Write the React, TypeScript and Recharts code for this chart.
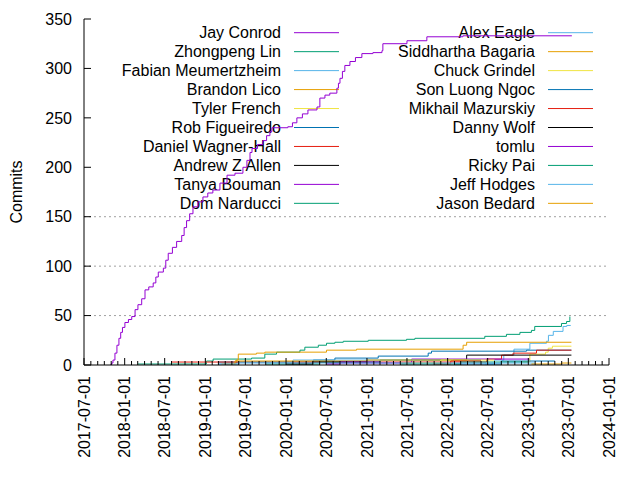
import { LineChart, Line, XAxis, YAxis, ReferenceLine } from 'recharts';

type Pt = [string, number];

// cumulative commits per author
const jayConrod: Pt[] = [
  ['2017-10-27', 0], ['2017-11-03', 2], ['2017-11-09', 5], ['2017-11-18', 12], ['2017-11-27', 20],
  ['2017-12-06', 27], ['2017-12-14', 33], ['2017-12-22', 38], ['2018-01-02', 43], ['2018-01-18', 46],
  ['2018-02-02', 49], ['2018-02-17', 56], ['2018-03-02', 61], ['2018-03-19', 67], ['2018-04-03', 76],
  ['2018-04-20', 79], ['2018-05-10', 83], ['2018-05-22', 89], ['2018-06-02', 94], ['2018-06-25', 98],
  ['2018-07-06', 106], ['2018-07-17', 113], ['2018-08-05', 119], ['2018-08-24', 125], ['2018-09-16', 131],
  ['2018-09-27', 139], ['2018-10-08', 146], ['2018-10-22', 153], ['2018-11-06', 160], ['2018-11-28', 165],
  ['2018-12-21', 170], ['2019-01-12', 174], ['2019-02-04', 177], ['2019-03-08', 184], ['2019-04-09', 192],
  ['2019-05-15', 194], ['2019-06-20', 200], ['2019-07-08', 207], ['2019-07-22', 215], ['2019-07-31', 219],
  ['2019-08-25', 223], ['2019-09-18', 227], ['2019-10-05', 232], ['2019-10-20', 236], ['2019-10-29', 240],
  ['2020-01-09', 241], ['2020-01-30', 245], ['2020-02-19', 250], ['2020-03-15', 254], ['2020-04-09', 258],
  ['2020-05-20', 261], ['2020-06-02', 270], ['2020-06-25', 273], ['2020-07-17', 275], ['2020-08-18', 280],
  ['2020-08-25', 285], ['2020-09-01', 290], ['2020-09-12', 297], ['2020-09-23', 303], ['2020-10-16', 307],
  ['2020-11-10', 311], ['2020-12-09', 315], ['2021-01-28', 316], ['2021-03-10', 318], ['2021-03-14', 325],
  ['2021-07-01', 328], ['2021-09-29', 332], ['2022-03-11', 333], ['2023-07-17', 333],
];
const zhongpengLin: Pt[] = [
  ['2018-03-02', 1], ['2019-01-06', 4], ['2019-02-05', 6], ['2019-07-29', 7], ['2019-09-27', 11],
  ['2019-11-19', 13], ['2020-03-04', 15], ['2020-03-26', 18], ['2020-05-26', 20], ['2020-07-02', 22],
  ['2020-08-09', 23], ['2020-09-16', 24], ['2021-01-07', 25], ['2021-06-29', 26], ['2021-08-06', 27],
  ['2022-06-18', 29], ['2022-09-24', 31], ['2022-11-24', 33], ['2023-01-15', 35], ['2023-01-30', 39],
  ['2023-05-31', 42], ['2023-06-23', 44], ['2023-07-08', 49],
];
const fabianMeumertzheim: Pt[] = [
  ['2022-06-20', 1], ['2022-08-01', 5], ['2022-09-12', 10], ['2022-10-28', 16], ['2023-01-08', 22],
  ['2023-03-24', 24], ['2023-04-02', 30], ['2023-04-24', 34], ['2023-06-07', 39], ['2023-06-24', 40],
  ['2023-07-12', 40],
];
const brandonLico: Pt[] = [
  ['2019-04-30', 1], ['2019-05-20', 5], ['2019-05-30', 11], ['2019-08-20', 12], ['2019-09-27', 13],
  ['2020-07-02', 15], ['2020-11-15', 16], ['2022-03-12', 20], ['2022-03-28', 23], ['2023-07-15', 23],
];
const tylerFrench: Pt[] = [
  ['2022-12-01', 3], ['2023-01-08', 11], ['2023-03-20', 13], ['2023-04-01', 17], ['2023-04-20', 19],
  ['2023-07-15', 19],
];
const robFigueiredo: Pt[] = [
  ['2019-02-28', 3], ['2020-05-03', 5], ['2020-08-09', 7], ['2021-02-21', 9], ['2021-10-05', 12],
  ['2021-10-20', 14], ['2022-12-24', 15], ['2023-07-15', 15],
];
const danielWagnerHall: Pt[] = [
  ['2018-08-02', 3], ['2022-06-26', 6], ['2022-09-02', 10], ['2022-10-24', 12], ['2023-02-07', 15],
  ['2023-07-15', 15],
];
const andrewZAllen: Pt[] = [
  ['2022-01-26', 5], ['2022-03-28', 10], ['2023-07-15', 10],
];
const tanyaBouman: Pt[] = [
  ['2020-07-01', 2], ['2021-07-22', 6], ['2023-01-07', 6],
];
const domNarducci: Pt[] = [
  ['2019-10-01', 1], ['2020-06-01', 3], ['2021-03-01', 5], ['2022-06-01', 5],
];
const alexEagle: Pt[] = [
  ['2019-03-01', 1], ['2019-06-01', 3], ['2020-02-01', 5], ['2022-01-01', 5],
];
const siddharthaBagaria: Pt[] = [
  ['2019-03-15', 1], ['2019-05-15', 4], ['2021-01-01', 5], ['2022-04-01', 5],
];
const chuckGrindel: Pt[] = [
  ['2021-06-01', 2], ['2021-12-01', 5], ['2022-08-01', 5],
];
const sonLuongNgoc: Pt[] = [
  ['2022-02-01', 1], ['2022-09-01', 4], ['2023-05-01', 4],
];
const mikhailMazurskiy: Pt[] = [
  ['2021-11-01', 1], ['2022-01-15', 4], ['2022-06-01', 4],
];
const dannyWolf: Pt[] = [
  ['2020-01-01', 1], ['2020-05-01', 3], ['2021-01-01', 3],
];
const tomlu: Pt[] = [
  ['2020-07-01', 1], ['2020-09-01', 3], ['2021-03-01', 3],
];
const rickyPai: Pt[] = [
  ['2021-06-01', 1], ['2022-03-01', 3], ['2023-01-01', 3],
];
const jeffHodges: Pt[] = [
  ['2019-03-01', 1], ['2019-06-01', 2], ['2023-02-01', 2],
];
const jasonBedard: Pt[] = [
  ['2023-01-15', 1], ['2023-06-01', 2], ['2023-07-15', 2],
];

const authors = [
  'Jay Conrod', 'Zhongpeng Lin', 'Fabian Meumertzheim', 'Brandon Lico', 'Tyler French',
  'Rob Figueiredo', 'Daniel Wagner-Hall', 'Andrew Z Allen', 'Tanya Bouman', 'Dom Narducci',
  'Alex Eagle', 'Siddhartha Bagaria', 'Chuck Grindel', 'Son Luong Ngoc', 'Mikhail Mazurskiy',
  'Danny Wolf', 'tomlu', 'Ricky Pai', 'Jeff Hodges', 'Jason Bedard',
];
const seriesData = [
  jayConrod, zhongpengLin, fabianMeumertzheim, brandonLico, tylerFrench,
  robFigueiredo, danielWagnerHall, andrewZAllen, tanyaBouman, domNarducci,
  alexEagle, siddharthaBagaria, chuckGrindel, sonLuongNgoc, mikhailMazurskiy,
  dannyWolf, tomlu, rickyPai, jeffHodges, jasonBedard,
];
const yTicks = [0, 50, 100, 150, 200, 250, 300, 350];
const gridValues = [50, 100, 150];

// gnuplot default palette
const palette = ['#9400d3', '#009e73', '#56b4e9', '#e69f00', '#f0e442', '#0072b2', '#e51e10', '#000000'];
const FONT = '"Liberation Sans", Arial, sans-serif';

const toTs = (s: string) => Date.parse(s + 'T00:00:00Z');
const X0 = toTs('2017-07-01');
const X1 = toTs('2024-01-01');

const monthTicks: number[] = [];
for (let y = 2017, m = 6; y < 2024 || (y === 2024 && m === 0); ) {
  monthTicks.push(Date.UTC(y, m, 1));
  m++;
  if (m === 12) { m = 0; y++; }
}
const isMajor = (t: number) => {
  const m = new Date(t).getUTCMonth();
  return m === 0 || m === 6;
};
const fmtDate = (t: number) => new Date(t).toISOString().slice(0, 10);

const BottomTick = (props: any) => {
  const { x, y, payload } = props;
  const major = isMajor(payload.value);
  return (
    <g>
      <line x1={x} x2={x} y1={y} y2={y - (major ? 7 : 4)} stroke="#000" />
      {major && (
        <text
          transform={`translate(${x},${y + 11}) rotate(-90)`}
          textAnchor="end"
          dy="0.36em"
          fontSize={16}
          fontFamily={FONT}
          fill="#000"
        >
          {fmtDate(payload.value)}
        </text>
      )}
    </g>
  );
};

const TopTick = (props: any) => {
  const { x, y, payload } = props;
  const major = isMajor(payload.value);
  return <line x1={x} x2={x} y1={y} y2={y + (major ? 7 : 4)} stroke="#000" />;
};

const LeftTick = (props: any) => {
  const { x, y, payload } = props;
  return (
    <g>
      <line x1={x} x2={x + 7} y1={y} y2={y} stroke="#000" />
      <text x={x - 12} y={y} dy="0.36em" textAnchor="end" fontSize={16} fontFamily={FONT} fill="#000">
        {payload.value}
      </text>
    </g>
  );
};

const RightTick = (props: any) => {
  const { x, y } = props;
  return <line x1={x} x2={x - 7} y1={y} y2={y} stroke="#000" />;
};

function Key() {
  return (
    <svg width={640} height={480} style={{ position: 'absolute', left: 0, top: 0 }}>
      {authors.map((name, i) => {
        const col = i < 10 ? 0 : 1;
        const row = i % 10;
        const yy = 32.7 + row * 18.96;
        const textX = col === 0 ? 281 : 535;
        const lx = col === 0 ? 294 : 548;
        return (
          <g key={name}>
            <text x={textX} y={yy} dy="0.36em" textAnchor="end" fontSize={16} fontFamily={FONT} fill="#000">
              {name}
            </text>
            <line x1={lx} x2={lx + 45} y1={yy} y2={yy} stroke={palette[i % 8]} strokeWidth={1} />
          </g>
        );
      })}
      <text
        transform="translate(22,192) rotate(-90)"
        textAnchor="middle"
        fontSize={16}
        fontFamily={FONT}
        fill="#000"
      >
        Commits
      </text>
    </svg>
  );
}

export default function App() {
  const lines = seriesData.map((s) => s.map(([d, v]) => ({ t: toTs(d), v })));
  return (
    <div style={{ position: 'absolute', left: 0, top: 0, width: 640, height: 480, background: '#fff' }}>
      <Key />
      <div style={{ position: 'absolute', left: 0, top: 0 }}>
        <LineChart width={640} height={480} margin={{ top: 19, right: 31, bottom: 15, left: 24 }}>
          <XAxis
            dataKey="t"
            type="number"
            domain={[X0, X1]}
            ticks={monthTicks}
            interval={0}
            allowDataOverflow
            height={100}
            tickSize={0}
            tickMargin={0}
            tickLine={false}
            axisLine={{ stroke: '#000' }}
            tick={<BottomTick />}
          />
          <XAxis
            xAxisId="top"
            orientation="top"
            dataKey="t"
            type="number"
            domain={[X0, X1]}
            ticks={monthTicks}
            interval={0}
            allowDataOverflow
            height={0}
            tickSize={0}
            tickMargin={0}
            tickLine={false}
            axisLine={{ stroke: '#000' }}
            tick={<TopTick />}
          />
          <YAxis
            type="number"
            domain={[0, 350]}
            ticks={yTicks}
            interval={0}
            allowDataOverflow
            width={60}
            tickSize={0}
            tickMargin={0}
            tickLine={false}
            axisLine={{ stroke: '#000' }}
            tick={<LeftTick />}
          />
          <YAxis
            yAxisId="right"
            orientation="right"
            type="number"
            domain={[0, 350]}
            ticks={yTicks}
            interval={0}
            allowDataOverflow
            width={0}
            tickSize={0}
            tickMargin={0}
            tickLine={false}
            axisLine={{ stroke: '#000' }}
            tick={<RightTick />}
          />
          {gridValues.map((g) => (
            <ReferenceLine key={g} y={g} stroke="#a0a0a0" strokeDasharray="2 3" />
          ))}
          {lines.map((d, i) => (
            <Line
              key={authors[i]}
              data={d}
              dataKey="v"
              type="stepAfter"
              stroke={palette[i % 8]}
              strokeWidth={1}
              dot={false}
              activeDot={false}
              isAnimationActive={false}
            />
          ))}
        </LineChart>
      </div>
    </div>
  );
}
